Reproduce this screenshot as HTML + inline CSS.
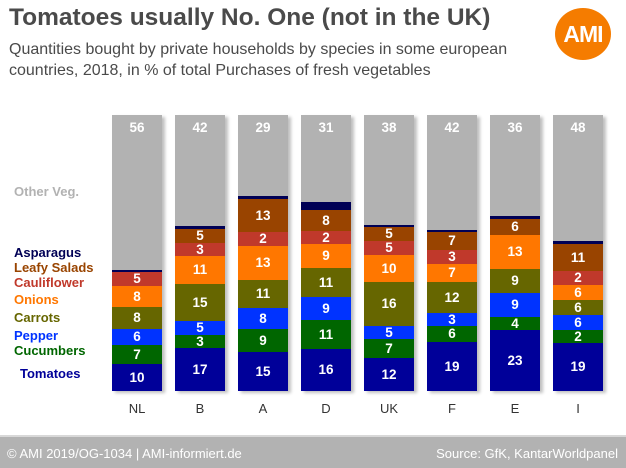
<!DOCTYPE html>
<html><head><meta charset="utf-8"><style>
body{margin:0;width:626px;height:466px;background:#fff;position:relative;overflow:hidden;font-family:"Liberation Sans",Arial,sans-serif}
.t{position:absolute;left:9px;top:4px;font-size:24.5px;font-weight:bold;color:#4a4a4a}
.s{position:absolute;left:9px;top:39px;font-size:16px;color:#4a4a4a;line-height:21px}
.logo{position:absolute;left:555px;top:8px;width:56px;height:52px;border-radius:50%;background:#f57c00;color:#fff;font-weight:bold;font-size:23px;line-height:52px;text-align:center;letter-spacing:-1px}
.bar{position:absolute;top:115px;width:50px;height:276px;display:flex;flex-direction:column-reverse;box-shadow:3px 2px 3px rgba(0,0,0,0.25)}
.bar div{color:#fff;font-weight:bold;font-size:13.5px;display:flex;align-items:center;justify-content:center;overflow:visible;line-height:1}
.o{background:#b2b2b2;align-items:flex-start!important;padding-top:6px;box-sizing:border-box}
.to{background:#000099}.cu{background:#006600}.pe{background:#0033ff}.ca{background:#666600}.on{background:#ff7700}.cf{background:#c0392b}.le{background:#994400}.as{background:#000055}
.lg{position:absolute;left:14px;font-weight:bold;font-size:13px}
.x{position:absolute;top:401px;width:50px;text-align:center;font-size:13px;color:#333}
.f{position:absolute;left:0;top:435px;width:626px;height:31px;background:#b2b2b2;border-top:2px solid #d8d8d8;color:#fff;font-size:13px}
</style></head><body>
<div class="t">Tomatoes usually No. One (not in the UK)</div>
<div class="s">Quantities bought by private households by species in some european<br>countries, 2018, in % of total Purchases of fresh vegetables</div>
<div class="logo">AMI</div>

<div class="lg" style="top:184px;color:#b2b2b2">Other Veg.</div>
<div class="lg" style="top:245px;color:#000055">Asparagus</div>
<div class="lg" style="top:260px;color:#994400">Leafy Salads</div>
<div class="lg" style="top:275px;color:#c0392b">Cauliflower</div>
<div class="lg" style="top:292px;color:#ff7700">Onions</div>
<div class="lg" style="top:310px;color:#666600">Carrots</div>
<div class="lg" style="top:328px;color:#0033ff">Pepper</div>
<div class="lg" style="top:343px;color:#006600">Cucumbers</div>
<div class="lg" style="top:366px;left:20px;color:#000099">Tomatoes</div>

<div class="bar" style="left:112px"><div class="to" style="flex:10">10</div><div class="cu" style="flex:7">7</div><div class="pe" style="flex:6">6</div><div class="ca" style="flex:8">8</div><div class="on" style="flex:8">8</div><div class="cf" style="flex:5">5</div><div class="as" style="flex:1"></div><div class="o" style="flex:55">56</div></div>
<div class="bar" style="left:175px"><div class="to" style="flex:17">17</div><div class="cu" style="flex:3">3</div><div class="pe" style="flex:5">5</div><div class="ca" style="flex:15">15</div><div class="on" style="flex:11">11</div><div class="cf" style="flex:3">3</div><div class="le" style="flex:5">5</div><div class="as" style="flex:1"></div><div class="o" style="flex:42">42</div></div>
<div class="bar" style="left:238px"><div class="to" style="flex:15">15</div><div class="cu" style="flex:9">9</div><div class="pe" style="flex:8">8</div><div class="ca" style="flex:11">11</div><div class="on" style="flex:13">13</div><div class="cf" style="flex:2">2</div><div class="le" style="flex:13">13</div><div class="as" style="flex:1"></div><div class="o" style="flex:29">29</div></div>
<div class="bar" style="left:301px"><div class="to" style="flex:16">16</div><div class="cu" style="flex:11">11</div><div class="pe" style="flex:9">9</div><div class="ca" style="flex:11">11</div><div class="on" style="flex:9">9</div><div class="cf" style="flex:2">2</div><div class="le" style="flex:8">8</div><div class="as" style="flex:3"></div><div class="o" style="flex:31">31</div></div>
<div class="bar" style="left:364px"><div class="to" style="flex:12">12</div><div class="cu" style="flex:7">7</div><div class="pe" style="flex:5">5</div><div class="ca" style="flex:16">16</div><div class="on" style="flex:10">10</div><div class="cf" style="flex:5">5</div><div class="le" style="flex:5">5</div><div class="as" style="flex:1"></div><div class="o" style="flex:38">38</div></div>
<div class="bar" style="left:427px"><div class="to" style="flex:19">19</div><div class="cu" style="flex:6">6</div><div class="pe" style="flex:3">3</div><div class="ca" style="flex:12">12</div><div class="on" style="flex:7">7</div><div class="cf" style="flex:3">3</div><div class="le" style="flex:7">7</div><div class="as" style="flex:1"></div><div class="o" style="flex:42">42</div></div>
<div class="bar" style="left:490px"><div class="to" style="flex:23">23</div><div class="cu" style="flex:4">4</div><div class="pe" style="flex:9">9</div><div class="ca" style="flex:9">9</div><div class="on" style="flex:13">13</div><div class="le" style="flex:6">6</div><div class="as" style="flex:1"></div><div class="o" style="flex:36">36</div></div>
<div class="bar" style="left:553px"><div class="to" style="flex:19">19</div><div class="cu" style="flex:2">2</div><div class="pe" style="flex:6">6</div><div class="ca" style="flex:6">6</div><div class="on" style="flex:6">6</div><div class="cf" style="flex:2">2</div><div class="le" style="flex:11">11</div><div class="as" style="flex:1"></div><div class="o" style="flex:48">48</div></div>

<div class="x" style="left:112px">NL</div><div class="x" style="left:175px">B</div><div class="x" style="left:238px">A</div><div class="x" style="left:301px">D</div><div class="x" style="left:364px">UK</div><div class="x" style="left:427px">F</div><div class="x" style="left:490px">E</div><div class="x" style="left:553px">I</div>

<div class="f"><span style="position:absolute;left:7px;top:9px">© AMI 2019/OG-1034 | AMI-informiert.de</span><span style="position:absolute;right:8px;top:9px">Source: GfK, KantarWorldpanel</span></div>
</body></html>
